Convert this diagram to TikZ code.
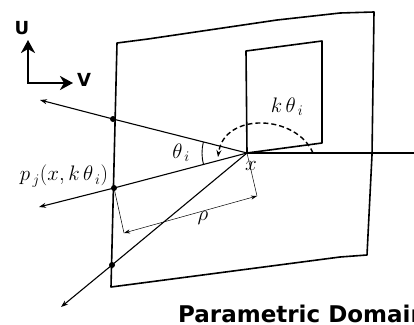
\documentclass[tikz,border=0pt]{standalone}
\usepackage{fix-cm}
\usepackage{fontspec}
\newfontfamily\domainfont{DejaVu Sans}
\usetikzlibrary{arrows.meta,calc}
\tikzset{
  sheet/.style  = {line width=1.6pt, line join=round},
  ray/.style    = {line width=1.1pt, -{Stealth[length=7pt,width=5pt]}},
  dot/.style    = {circle, fill=black, minimum size=6pt, inner sep=0pt},
  dim/.style    = {line width=0.5pt},
  dimarr/.style = {dim, {Stealth[length=6pt,width=4pt]}-{Stealth[length=6pt,width=4pt]}},
  axis/.style   = {line width=2.8pt, {Stealth[length=13pt,width=14pt,inset=4pt]}-{Stealth[length=13pt,width=14pt,inset=4pt]}},
  turn/.style   = {line width=1.4pt, dash pattern=on 5pt off 3pt, -{Stealth[length=7pt,width=5pt]}},
  mlbl/.style   = {font=\fontsize{21}{24}\selectfont, inner sep=0pt},
  axlbl/.style  = {font=\domainfont\bfseries\fontsize{18}{20}\selectfont, inner sep=0pt},
  ttl/.style    = {font=\domainfont\bfseries\fontsize{23}{26}\selectfont, inner sep=0pt},
}
\begin{document}
\begin{tikzpicture}[x=1pt,y=-1pt]
  \useasboundingbox (0,0) rectangle (414,324);
  \clip (0,0) rectangle (414,324);
  % domain sheet
  \draw[sheet] (117,43) -- (148,39) -- (277,20) -- (340,13) -- (374,12) -- (372,155)
               -- (367,255) -- (340,257) -- (111,287) -- cycle;
  \coordinate (x) at (247,153);
  \coordinate (east) at (414,153);
  \draw[sheet] (x) -- (246,51) -- (322,41) -- (322,143) -- cycle;
  \draw[line width=1.1pt] (x) -- (east);
  % rays through the boundary
  \node[dot] (p1) at (113,119) {};
  \node[dot] (p2) at (114,188) {};
  \node[dot] (p3) at (112,265) {};
  \coordinate (e1) at (40,100);
  \coordinate (e2) at (39,207);
  \coordinate (e3) at (61,307);
  \draw[ray] (x) -- (p1.center) -- (e1);
  \draw[ray] (x) -- (p2.center) -- (e2);
  \draw[ray] (x) -- (p3.center) -- (e3);
  % distance rho
  \coordinate (r1) at (124,233);
  \coordinate (r2) at (257,196);
  \draw[dim] (p2.center) -- (r1);
  \draw[dim] (x) -- (r2);
  \draw[dimarr] (r1) -- (r2);
  % angles
  \draw[line width=0.9pt] (x) ++(165:45) arc[start angle=165, end angle=194, radius=45];
  \coordinate (k0) at (313,153);
  \coordinate (k1) at (218,157);
  \draw[turn] (k0) .. controls (296,114) and (224,112) .. (k1);
  \node[mlbl] (ktheta) at (287,107) {$k\,\theta_{\,i}$};
  \node[mlbl] (theta) at (181,153) {$\theta_{\,i}$};
  \node[mlbl] (xlbl) at (251,166) {$x$};
  \node[mlbl] (rho) at (203,218) {$\rho$};
  \node[mlbl] (pj) at (64,176) {$p_{\,j}\bigl(x,k\,\theta_{\,i}\bigr)$};
  % axes
  \coordinate (o) at (28,83);
  \coordinate (u) at (28,40);
  \coordinate (v) at (73,83);
  \draw[axis] (u) -- (o) -- (v);
  \node[axlbl] (ulbl) at (22,28) {U};
  \node[axlbl] (vlbl) at (84,80) {V};
  \node[ttl, anchor=base west] (title) at (178,322) {Parametric Domain};
\end{tikzpicture}
\end{document}
